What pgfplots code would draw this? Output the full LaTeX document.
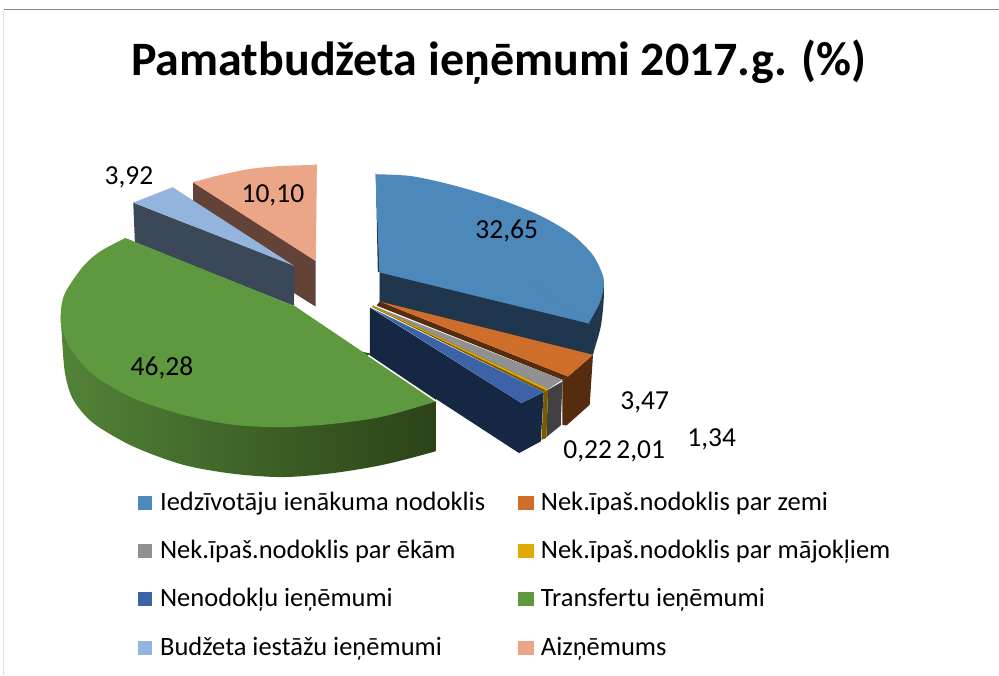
\documentclass[border=0pt]{standalone}
\usepackage{pgfplots}
\pgfplotsset{compat=1.18}
\usepackage{fontspec}
\setmainfont{Carlito}
\definecolor{cBlue}{HTML}{4D88BB}\definecolor{cBlueS}{HTML}{20364C}
\definecolor{cOr}{HTML}{CF6D2A}\definecolor{cOrS}{HTML}{552C0E}
\definecolor{cGr}{HTML}{919191}\definecolor{cGrS}{HTML}{414141}
\definecolor{cGo}{HTML}{E3A900}\definecolor{cGoS}{HTML}{7A5C00}
\definecolor{cNa}{HTML}{3C62A8}\definecolor{cNaS}{HTML}{162744}
\definecolor{cGn}{HTML}{5F993F}
\definecolor{cGnL}{HTML}{528337}\definecolor{cGnM}{HTML}{40602A}\definecolor{cGnR}{HTML}{263913}
\definecolor{cLb}{HTML}{93B5DD}\definecolor{cLbS}{HTML}{3B4858}
\definecolor{cSa}{HTML}{EBA688}\definecolor{cSaS}{HTML}{634237}
\begin{document}
\begin{tikzpicture}
\begin{axis}[x=1pt,y=1pt,xmin=0,xmax=999,ymin=0,ymax=675,y dir=reverse,
  axis line style={draw=none},ticks=none,clip=false,scale only axis,
  every axis plot/.append style={draw=none,mark=none}]
% frame
\addplot[draw=gray!90,line width=1pt] coordinates {(4,10) (999,10)};
\addplot[draw=black!12,line width=1pt] coordinates {(4,10) (4,675)};
% Aizņēmums
\addplot[fill=cSaS] coordinates {(193.3,182.3)(315.7,260.7)(315.7,306.7)(193.3,230)} --cycle;
\addplot[fill=cSa,draw=cSa,line width=0.6pt] coordinates {(316.7,165)(193.3,182.3)(315.7,260.7)} --cycle;
\addplot[fill=cSa,smooth] coordinates {(316.7,165)(283,166)(250,169)(216.7,176)(193.3,182.3)};
% Budžeta iestāžu
\addplot[fill=cLbS] coordinates {(133.3,202.7)(294.3,266)(294.3,306)(135,243.3)} --cycle;
\addplot[fill=cLb] coordinates {(133.3,202.7)(172.7,187.3)(294.3,266)} --cycle;
% Transferti
\addplot[left color=cGnL,middle color=cGnM,right color=cGnR,smooth] coordinates {(60.7,316.7)(61.7,333.3)(65,373.3)(73.3,400)(93.3,423.3)(133.3,446.7)(183.3,465)(233.3,474)(283.3,477.3)(333.3,473.3)(383.3,465)(435,451.7)(470,440)(470,380)(300,340)};
\addplot[fill=white] coordinates {(436,395)(490,395)(490,480)(436,480)} --cycle;
\addplot[fill=cGn,draw=cGn,line width=0.6pt] coordinates {(125,238.3)(295,306.7)(436,401.7)} --cycle;
\addplot[fill=cGn,smooth] coordinates {(436,401.7)(383.3,416.7)(333.3,424)(283.3,427.3)(233.3,425)(183.3,415)(133.3,398.3)(93.3,375)(70,348.3)(61.7,326.7)(60.7,316.7)(62,303)(66.7,290)(83,266.7)(100,251.7)(125,238.3)};
% Iedzīvotāju ienākuma nodoklis
\addplot[fill=cBlueS] coordinates {(376,174)(380,272)(378,272)} --cycle;
\addplot[fill=cBlueS,draw=cBlueS,line width=0.6pt] coordinates {(380,272)(604,285)(593,355)(380,302)} --cycle;
\addplot[fill=cBlueS,smooth] coordinates {(604,285)(604,300)(601,327)(593,355)};
\addplot[fill=cBlue,draw=cBlue,line width=0.6pt] coordinates {(376,174.3)(589,323.3)(380,272.3)} --cycle;
\addplot[fill=cBlue,smooth] coordinates {(376,174.3)(410,176)(443,182.7)(477,192)(510,203)(543,217)(573,235)(593,255)(603,275)(604,287)(600,303)(589,323.3)};
% Zeme
\addplot[fill=cOrS] coordinates {(568.3,376.7)(593.3,355)(590,405)(566.7,425.7)(562.7,425)(562.7,380)} --cycle;
\addplot[fill=cOrS] coordinates {(380,301.7)(568.3,376.7)(562.7,380)(376.7,305.7)} --cycle;
\addplot[fill=cOr] coordinates {(380,301.7)(593.3,355)(568.3,376.7)} --cycle;
% Ēkas
\addplot[fill=cGrS] coordinates {(562.7,381.7)(561,425.7)(546.7,437.3)(548.3,390)} --cycle;
\addplot[fill=cGr] coordinates {(375,306.7)(562.7,380)(548.3,389.3)(373.3,307.3)} --cycle;
% Mājokļi
\addplot[fill=cGoS] coordinates {(548.3,390)(546.7,438.3)(541.7,440)(544,392.3)} --cycle;
\addplot[fill=cGoS] coordinates {(373.3,305.5)(375,306.7)(548.3,389.3)(544,392.3)(372,307)} --cycle;
\addplot[fill=cGo] coordinates {(372.7,306)(548.3,389.3)(546.5,390.6)(372.3,306.6)} --cycle;
% Nenodokļu
\addplot[fill=cNaS] coordinates {(370,307.7)(521.7,403.3)(544,392.3)(541,441.7)(519.3,453.3)(370,356)} --cycle;
\addplot[fill=cNa] coordinates {(371.7,308.3)(544,392.3)(521.7,403.3)} --cycle;
\addplot[draw=white,line width=1.5pt] coordinates {(368.5,355.5)(436,401)};
% legend squares
\addplot[fill=cBlue] coordinates {(138,496)(152.3,496)(152.3,510)(138,510)} --cycle;
\addplot[fill=cGr] coordinates {(138,544.5)(152.3,544.5)(152.3,558.5)(138,558.5)} --cycle;
\addplot[fill=cNa] coordinates {(138,592)(152.3,592)(152.3,606)(138,606)} --cycle;
\addplot[fill=cLb] coordinates {(138,641)(152.3,641)(152.3,655)(138,655)} --cycle;
\addplot[fill=cOr] coordinates {(518,496)(534,496)(534,510)(518,510)} --cycle;
\addplot[fill=cGo] coordinates {(518,544)(534,544)(534,558.5)(518,558.5)} --cycle;
\addplot[fill=cGn] coordinates {(518,592)(534,592)(534,606)(518,606)} --cycle;
\addplot[fill=cSa] coordinates {(518,641)(534,641)(534,655)(518,655)} --cycle;
% title
\node[anchor=base,inner sep=0pt,font=\fontsize{48}{52}\selectfont\bfseries] at (axis cs:499,76) {Pamatbudžeta ieņēmumi 2017.g. (\%)};
% value labels
\tikzset{v/.style={font=\fontsize{27.5}{30}\selectfont,inner sep=0pt}}
\node[v] at (axis cs:507,231) {32,65};
\node[v] at (axis cs:162,368) {46,28};
\node[v] at (axis cs:273,195) {10,10};
\node[v] at (axis cs:129,177) {3,92};
\node[v] at (axis cs:645,403) {3,47};
\node[v] at (axis cs:712,440) {1,34};
\node[v] at (axis cs:588,452) {0,22};
\node[v] at (axis cs:641,452) {2,01};
% legend text
\tikzset{l/.style={font=\fontsize{26.5}{30}\selectfont,inner sep=0pt,anchor=base west}}
\node[l] at (axis cs:160,511) {Iedzīvotāju ienākuma nodoklis};
\node[l] at (axis cs:160,559) {Nek.īpaš.nodoklis par ēkām};
\node[l] at (axis cs:160,607) {Nenodokļu ieņēmumi};
\node[l] at (axis cs:160,656) {Budžeta iestāžu ieņēmumi};
\node[l] at (axis cs:541,511) {Nek.īpaš.nodoklis par zemi};
\node[l] at (axis cs:541,559) {Nek.īpaš.nodoklis par mājokļiem};
\node[l] at (axis cs:541,607) {Transfertu ieņēmumi};
\node[l] at (axis cs:541,656) {Aizņēmums};
\end{axis}
\end{tikzpicture}
\end{document}
